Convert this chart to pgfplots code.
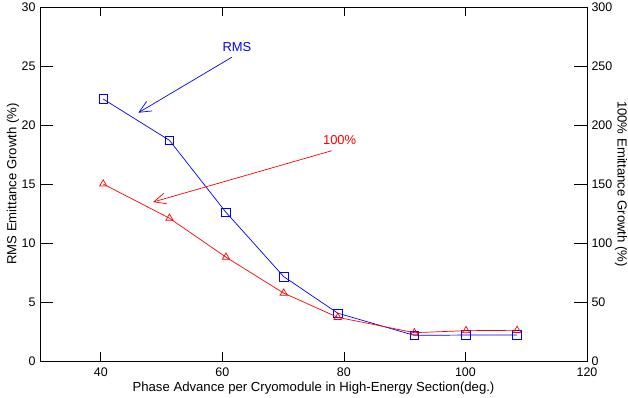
\documentclass[border=0pt]{standalone}
\usepackage{pgfplots}
\pgfplotsset{compat=1.18}
\usetikzlibrary{arrows.meta}
\usepackage{fontspec}
\setmainfont{Liberation Sans}
\definecolor{gblue}{RGB}{0,0,255}
\definecolor{gred}{RGB}{255,0,0}
\begin{document}
\begin{tikzpicture}
\useasboundingbox (-40bp,-37bp) rectangle (588bp,361bp);
\pgfplotsset{
  common/.style={
    scale only axis, width=547bp, height=354bp,
    at={(0,0)}, anchor=south west,
    xmin=30, xmax=120,
    font=\fontsize{12.5}{14}\selectfont,
    label style={font=\fontsize{13.2}{15}\selectfont},
    /pgf/number format/assume math mode=true,
    tick style={black, line width=0.7bp},
    axis line style={line width=0.7bp},
    tick align=inside,
    clip=false,
  }
}
% left axis + blue series
\begin{axis}[common,
  ymin=0, ymax=30, ytick={0,5,...,30}, ytick pos=left,
  xtick=\empty, major tick length=13bp,
  yticklabel style={xshift=-1bp},
  ylabel={RMS Emittance Growth (\%)},
  ylabel style={at={(axis description cs:-0.0494,0.5)}, anchor=center},
]
\addplot[gblue, line width=0.7bp, mark=square, mark size=4.3bp, mark options={solid}] coordinates {
(40.4,22.2) (51.3,18.7) (60.6,12.6) (70.1,7.15) (79.0,4.05) (91.6,2.17) (100.1,2.2) (108.5,2.2)};
\draw[gblue, line width=0.7bp, -{Straight Barb[length=12bp, width=11bp]}] (axis cs:61.56,25.74) -- (axis cs:46.18,21.04);
\node[gblue, anchor=center, font=\fontsize{13}{15}\selectfont] at (axis cs:62.4,26.6) {RMS};
\draw[gred, line width=0.7bp, -{Straight Barb[length=12bp, width=11bp]}] (axis cs:78.0,17.82) -- (axis cs:48.6,13.47);
\node[gred, anchor=center, font=\fontsize{13}{15}\selectfont] at (axis cs:79.3,18.7) {100\%};
\end{axis}
% right axis + red series
\begin{axis}[common,
  ymin=0, ymax=300, ytick={0,50,...,300}, ytick pos=right,
  xtick=\empty, major tick length=13bp,
  yticklabel style={xshift=1bp},
  ylabel={100\% Emittance Growth (\%)},
  ylabel style={at={(axis description cs:1.0622,0.5)}, anchor=center, rotate=180},
]
\addplot[gred, line width=0.7bp, mark=triangle, mark size=4.2bp, mark options={solid}] coordinates {
(40.4,150) (51.3,121) (60.6,88) (70.1,57.5) (79.0,37) (91.6,24) (100.1,25.7) (108.5,26)};
\end{axis}
% x ticks
\begin{axis}[common,
  ymin=0, ymax=30, ytick=\empty,
  xtick={40,60,80,100,120}, major tick length=9bp,
  xticklabel style={yshift=-3bp},
  xlabel={Phase Advance per Cryomodule in High-Energy Section(deg.)},
  xlabel style={at={(axis description cs:0.5,-0.0763)}, anchor=center},
]
\end{axis}
\end{tikzpicture}
\end{document}
